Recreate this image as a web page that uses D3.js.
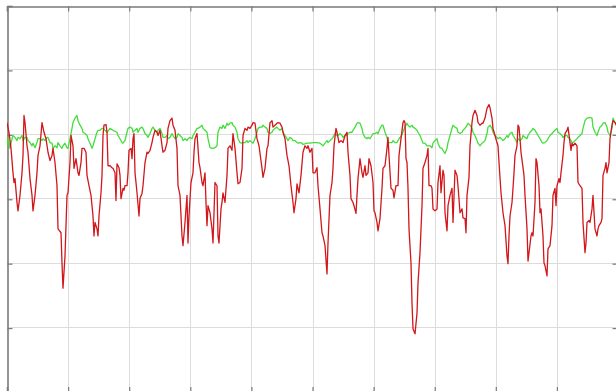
<!DOCTYPE html>
<html>
<head>
<meta charset="utf-8">
<script src="https://cdn.jsdelivr.net/npm/d3@7"></script>
<style>
  html, body { margin: 0; padding: 0; background: #ffffff; overflow: hidden; }
  svg { display: block; }
</style>
</head>
<body>
<svg id="chart" width="616" height="391"></svg>
<script>
// ---------------- data ----------------
// sample index (x) and level (y) of the red trace
const redT = [0,2,4,6,7,8,10,11,13,15,16,17,18,20,21,23,25,26,28,30,31,33,35,37,39,41,43,45,46,48,50,51,54,55,56,58,60,61,63,64,66,67,69,71,72,74,75,77,79,80,82,84,86,87,88,90,91,92,94,95,96,97,
  99,100,101,103,105,106,108,109,110,112,113,114,116,117,118,120,121,122,124,125,126,127,128,129,130,132,133,135,136,138,140,141,143,145,146,148,150,151,153,155,156,158,160,161,163,165,166,168,170,171,173,175,176,178,180,181,182,184,186,187,188,190,192,193,
  195,196,198,199,200,201,203,205,206,208,210,211,212,214,215,216,218,220,221,223,225,226,228,230,231,233,235,236,238,240,241,243,245,246,248,250,252,255,256,258,260,261,263,265,266,268,270,271,273,275,276,278,280,282,284,286,287,289,290,292,294,296,
  298,300,301,303,305,306,308,310,311,313,315,316,318,320,321,323,325,326,327,329,330,332,334,336,338,340,341,343,344,346,347,349,350,351,353,355,356,358,359,361,362,364,366,367,368,370,371,373,375,376,378,380,381,382,384,386,387,389,391,392,394,396,397,
  398,399,400,401,402,404,405,406,408,410,411,413,415,416,418,420,421,422,424,425,426,428,430,431,433,434,436,437,438,440,441,443,445,446,448,450,451,453,455,456,458,459,460,462,463,465,466,468,470,471,473,475,476,478,480,482,483,485,486,488,490,491,492,494,495,496,
  498,500,501,502,503,505,506,507,508,510,511,512,513,514,516,517,518,520,521,522,524,525,526,528,529,530,532,533,534,536,537,538,540,541,543,545,546,548,549,550,552,553,554,556,557,558,560,561,563,564,565,566,568,570,571,573,575,576,578,579,580,582,583,585,586,588,590,591,592,594,595,596,598,599,600,602,603,605,606,608,611];
const redV = [41.9,40.4,37.9,34.1,32.6,33.2,29.5,28.2,30.6,34.1,36.8,43.0,41.9,38.3,37.3,33.2,30.6,28.2,30.6,34.1,36.8,38.3,41.9,40.4,39.4,37.3,36.0,36.8,37.9,35.7,32.1,25.4,24.8,20.1,16.2,21.2,30.6,31.0,35.7,39.9,38.3,34.8,36.3,34.1,33.7,35.7,37.9,37.9,37.3,33.7,32.1,30.6,27.4,24.3,26.4,25.4,24.3,27.4,31.0,33.7,39.9,41.5,
  41.6,40.4,35.2,35.2,34.9,34.8,34.1,29.8,35.5,34.9,33.7,30.1,31.7,31.4,32.1,32.1,34.1,37.6,37.9,36.3,39.4,40.2,34.1,32.6,31.0,27.4,30.1,30.9,32.1,35.7,37.3,37.1,37.6,38.8,39.6,40.7,40.4,39.9,40.7,38.3,37.3,37.6,38.8,41.0,42.2,42.6,41.5,40.7,37.9,32.1,30.6,24.3,22.8,26.4,30.6,23.2,27.4,32.6,34.1,37.3,39.4,40.2,35.7,34.9,
  32.6,32.1,34.1,29.5,25.9,29.0,27.9,25.4,23.2,32.6,32.1,24.3,23.2,28.5,29.5,31.0,29.5,33.7,37.9,38.3,37.6,40.2,37.9,34.1,32.4,32.6,34.8,39.9,41.0,40.7,41.2,41.0,41.5,41.9,41.8,39.4,38.3,34.8,33.4,34.8,37.9,38.3,41.9,42.2,41.2,41.5,41.8,41.9,41.8,41.2,40.4,39.4,36.8,35.2,32.1,29.5,27.9,30.1,32.4,31.0,33.7,37.3,
  38.3,37.9,38.3,37.3,37.9,34.1,34.1,34.9,32.1,28.5,24.8,24.3,22.8,18.4,23.2,30.6,32.6,34.8,38.3,41.0,40.4,38.8,39.1,38.8,39.9,40.4,37.3,33.7,30.1,29.5,29.0,27.8,30.6,33.2,36.3,34.1,33.4,35.2,33.7,34.1,36.3,35.2,32.6,28.2,27.9,26.4,25.1,27.0,31.7,34.8,35.2,37.9,39.6,36.8,31.7,31.4,30.2,32.1,32.1,36.8,39.4,41.9,42.2,
  41.9,36.3,35.7,31.7,25.4,20.1,13.9,9.9,9.1,12.3,17.0,21.7,29.0,34.8,35.7,36.8,37.9,32.1,32.1,31.7,28.5,28.2,28.5,32.6,35.2,31.0,34.5,33.7,27.9,25.1,29.0,30.6,31.7,26.4,34.5,33.7,32.1,27.9,28.5,27.1,27.0,24.8,30.6,33.4,38.3,41.9,43.0,43.8,43.0,41.9,41.5,41.8,41.8,42.6,44.1,44.7,44.2,42.6,41.0,39.9,38.8,38.3,35.7,31.0,29.5,27.9,
  25.9,21.2,20.0,24.3,27.4,29.5,31.7,34.1,36.8,38.3,41.5,41.2,39.4,37.3,34.9,33.7,30.6,25.4,20.4,21.7,24.3,24.8,24.3,29.5,36.3,35.7,32.1,27.9,28.5,24.3,20.1,19.7,18.1,22.3,22.8,25.9,30.6,31.7,29.0,32.1,33.2,32.6,34.1,36.8,38.8,40.2,40.7,41.2,38.8,37.6,38.7,38.3,38.7,38.3,32.6,32.1,31.7,26.4,21.7,23.2,26.4,26.7,26.4,28.5,30.6,25.4,24.3,25.4,25.9,26.4,27.0,33.7,34.8,35.7,34.1,35.7,39.4,41.5,42.2,41.9,41.0];

// sample index (x) and level (y) of the green trace
const greenT = [0,1,3,5,6,8,10,11,13,15,16,18,20,21,23,25,26,28,30,31,33,35,36,38,40,41,43,45,46,48,50,51,53,55,56,58,60,61,63,65,66,68,70,71,73,75,76,78,80,81,83,85,86,88,90,91,93,95,96,
  100,103,106,110,111,113,115,116,118,120,121,123,125,126,128,130,131,133,135,136,138,140,141,143,145,146,148,150,151,153,155,156,158,160,161,163,165,166,168,170,171,173,175,176,178,180,181,183,185,186,188,190,191,193,195,
  196,198,200,201,203,205,206,208,210,211,213,215,216,218,220,221,223,225,226,228,230,231,233,235,236,238,240,241,243,245,246,248,250,251,253,255,256,258,260,261,263,265,266,268,270,271,273,275,276,278,280,281,283,285,286,288,290,291,293,295,296,
  300,303,306,310,313,316,318,320,321,323,325,326,328,330,331,333,335,336,338,340,341,343,345,346,348,350,351,353,355,356,358,360,361,363,365,366,368,370,371,373,375,376,378,380,381,383,385,386,388,390,391,393,395,396,
  398,400,401,403,405,406,408,410,411,413,415,416,418,420,421,423,425,426,428,430,431,433,435,436,438,440,441,443,445,446,448,450,451,453,455,456,458,460,461,463,465,466,468,470,471,473,475,476,478,480,481,483,485,486,488,490,491,493,495,496,
  498,500,501,503,505,506,508,510,511,513,515,516,518,520,521,523,525,526,528,530,531,533,535,536,538,540,541,543,545,546,548,550,551,553,555,556,558,560,561,563,565,566,568,570,571,573,575,576,578,580,581,583,585,586,588,590,591,593,595,596,598,600,601,603,605,606,608,611];
const greenV = [38.3,39.6,37.9,39.4,39.9,39.6,39.1,39.6,39.4,39.9,39.1,39.6,39.6,39.1,38.8,38.3,38.7,38.0,38.8,39.4,39.4,39.1,39.4,39.1,39.6,39.6,38.8,38.7,37.9,38.3,38.0,38.8,38.3,37.9,38.3,38.7,38.0,37.9,39.4,41.0,41.9,42.6,43.0,42.2,41.5,41.0,40.4,40.2,39.9,39.4,38.7,37.9,38.3,39.4,40.4,40.7,40.7,41.0,41.0,
  40.4,41.0,40.7,40.4,39.9,39.4,38.8,38.7,39.1,40.4,41.0,41.2,41.0,40.4,40.7,41.0,40.4,41.0,41.2,41.0,40.2,39.9,39.6,40.2,41.0,41.2,40.7,40.4,40.7,41.0,40.2,39.6,39.6,39.9,39.4,39.6,40.2,39.9,39.4,39.6,40.2,39.9,39.6,39.1,39.4,39.1,39.4,39.6,39.4,39.9,40.4,41.0,41.0,41.2,41.5,
  41.0,40.7,40.4,39.4,38.0,37.9,37.9,38.0,38.3,40.4,41.2,41.0,41.5,41.0,41.8,41.5,41.8,41.9,41.5,41.2,40.4,39.4,38.8,38.7,38.8,38.8,39.1,38.8,39.1,38.8,38.7,39.4,40.4,41.0,41.2,41.2,41.5,41.2,41.0,40.4,40.2,40.4,40.7,41.0,41.2,41.0,40.7,41.0,40.4,39.9,39.4,39.1,39.6,39.4,39.1,39.1,38.8,38.7,38.8,38.7,38.5,
  38.7,38.7,38.8,38.8,38.7,38.3,38.7,39.1,38.8,39.1,39.4,39.6,40.2,39.9,39.9,40.2,39.9,39.6,39.9,39.9,40.2,40.4,40.4,40.7,41.2,41.8,41.9,41.8,41.0,40.2,39.6,39.4,39.6,39.4,39.9,40.2,40.2,40.4,40.2,41.0,41.5,41.5,40.4,39.6,38.8,38.8,38.8,39.1,38.8,38.8,39.1,39.6,40.0,40.5,
  41.2,41.8,41.5,41.2,41.5,41.2,41.0,40.7,40.4,39.9,39.1,38.7,38.7,38.3,38.3,38.3,38.0,38.7,39.1,39.4,38.7,38.0,37.9,37.6,37.1,37.9,38.8,39.9,41.0,41.5,41.2,41.0,40.4,40.2,40.4,40.7,41.0,41.5,41.8,41.5,41.0,40.4,39.9,39.1,38.7,38.3,38.7,38.8,39.1,40.2,41.2,41.5,41.0,40.4,39.9,39.6,39.4,39.6,39.3,39.1,
  39.4,39.9,39.6,40.2,40.4,39.9,39.4,38.8,39.4,39.1,39.4,39.9,39.6,39.4,39.9,40.4,40.7,41.0,40.7,40.2,39.9,39.4,38.8,38.7,38.8,39.1,39.4,39.9,40.2,40.4,40.7,41.0,40.4,40.2,39.9,39.6,39.9,39.9,39.6,39.4,38.8,38.8,39.1,39.4,39.6,39.9,40.2,41.0,42.2,42.6,42.6,42.7,42.6,41.2,40.4,39.9,40.4,41.2,41.5,41.8,41.9,41.2,40.4,39.9,41.0,42.6,41.9,41.5];

// axis ticks (samples and level)
const xTicks = [0, 61.1, 122.2, 183.3, 244.4, 305.5, 366.6, 427.7, 488.8, 549.9, 611];
const yTicks = [0, 10, 20, 30, 40, 50, 60];

// ---------------- drawing ----------------
const svg = d3.select('#chart');
const plotL = 7, plotR = 618, plotT = 6, plotB = 392.5;

const x = d3.scaleLinear().domain([0, 611]).range([plotL, plotR]);
const y = d3.scaleLinear().domain([0, 60]).range([plotB, plotT]);

// grid
svg.append('g').selectAll('line').data(xTicks.slice(1, -1)).join('line')
  .attr('x1', d => Math.round(x(d)) + 0.5).attr('x2', d => Math.round(x(d)) + 0.5)
  .attr('y1', plotT).attr('y2', plotB)
  .attr('stroke', '#dcdcdc').attr('stroke-width', 1);
svg.append('g').selectAll('line').data(yTicks.slice(1, -1)).join('line')
  .attr('y1', d => Math.round(y(d)) - 0.5).attr('y2', d => Math.round(y(d)) - 0.5)
  .attr('x1', plotL).attr('x2', plotR)
  .attr('stroke', '#dcdcdc').attr('stroke-width', 1);

// axes (box with inward ticks)
const axisColor = '#7a7a7a';
const gl = svg.append('g').attr('transform', `translate(${plotL + 0.5},0)`)
  .call(d3.axisRight(y).tickValues(yTicks).tickSize(5).tickFormat(''));
const gr = svg.append('g').attr('transform', `translate(${plotR - 0.5},0)`)
  .call(d3.axisLeft(y).tickValues(yTicks).tickSize(5).tickFormat(''));
const gt = svg.append('g').attr('transform', `translate(0,${plotT + 0.5})`)
  .call(d3.axisBottom(x).tickValues(xTicks).tickSize(5).tickFormat(''));
const gb = svg.append('g').attr('transform', `translate(0,${plotB - 0.5})`)
  .call(d3.axisTop(x).tickValues(xTicks).tickSize(5).tickFormat(''));
[gl, gr, gt, gb].forEach(g => {
  g.selectAll('path.domain').attr('stroke', axisColor).attr('stroke-width', 1.3);
  g.selectAll('.tick line').attr('stroke', axisColor).attr('stroke-width', 1.2);
});
gl.select('path.domain').attr('stroke-width', 1.6);
gt.select('path.domain').attr('stroke-width', 1.6);

// series
svg.append('clipPath').attr('id', 'plotclip')
  .append('rect').attr('x', plotL).attr('y', plotT).attr('width', plotR - plotL).attr('height', plotB - plotT);

const greenData = greenT.map((t, i) => [t, greenV[i]]);
const redData = redT.map((t, i) => [t, redV[i]]);
const line = d3.line().x(d => x(d[0])).y(d => y(d[1]));

svg.append('path').datum(greenData)
  .attr('clip-path', 'url(#plotclip)')
  .attr('fill', 'none').attr('stroke', '#44dd3c').attr('stroke-width', 1.3)
  .attr('stroke-linejoin', 'round').attr('d', line);
svg.append('path').datum(redData)
  .attr('clip-path', 'url(#plotclip)')
  .attr('fill', 'none').attr('stroke', '#d2161a').attr('stroke-width', 1.3)
  .attr('stroke-linejoin', 'round').attr('d', line);
</script>
</body>
</html>
